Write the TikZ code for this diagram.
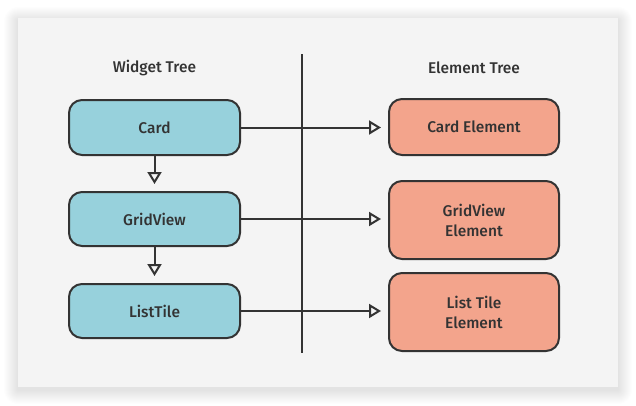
\documentclass[tikz,border=0pt]{standalone}
\usepackage{fontspec}
\setmainfont{Fira Sans Medium}
\usetikzlibrary{arrows.meta,positioning}
\definecolor{panel}{HTML}{F4F4F4}
\definecolor{ink}{HTML}{333333}
\definecolor{wblue}{HTML}{97D1DC}
\definecolor{esalmon}{HTML}{F3A48C}
\tikzset{
  box/.style={draw=ink, line width=2pt, rounded corners=13pt, inner sep=0pt, text=ink, font=\fontsize{15.5}{20}\selectfont, align=center},
  wbox/.style={box, fill=wblue, minimum width=171pt, minimum height=55pt},
  ebox/.style={box, fill=esalmon, minimum width=170pt},
  conn/.style={draw=ink, line width=2pt, -{Triangle[open, length=12pt, width=14pt, line width=2pt]}, shorten >=7pt},
  title/.style={text=ink, font=\fontsize{15.5}{20}\selectfont}
}
\begin{document}
\begin{tikzpicture}[x=1pt,y=-1pt]
\useasboundingbox (0,0) rectangle (636,405);
\fill[white] (0,0) rectangle (636,405);
% soft shadow
\foreach \i in {1,...,14}{
  \fill[black, opacity=0.008, rounded corners=\i pt] (18-\i,18-\i+3) rectangle (618+\i,387+\i+3);
}
\fill[panel] (18,18) rectangle (618,387);
\node[title] (wt) at (154.5,68) {Widget Tree};
\node[title] (et) at (474,68) {Element Tree};
\draw[ink, line width=2pt] (302,54) -- (302,353);
\node[wbox] (card) at (154.5,127.5) {Card};
\node[wbox, minimum height=54pt] (grid) at (154.5,219) {GridView};
\node[wbox, minimum height=54pt] (list) at (154.5,311) {ListTile};
\node[ebox, minimum height=56pt] (ecard) at (474,127) {Card Element};
\node[ebox, minimum height=78pt] (egrid) at (474,220) {GridView\\Element};
\node[ebox, minimum height=78pt] (elist) at (474,312) {List Tile\\Element};
\draw[conn] (card) -- (grid);
\draw[conn] (grid) -- (list);
\draw[conn] (card.east) -- (ecard.west |- card.east);
\draw[conn] (grid.east) -- (egrid.west |- grid.east);
\draw[conn] (list.east) -- (elist.west |- list.east);
\end{tikzpicture}
\end{document}
